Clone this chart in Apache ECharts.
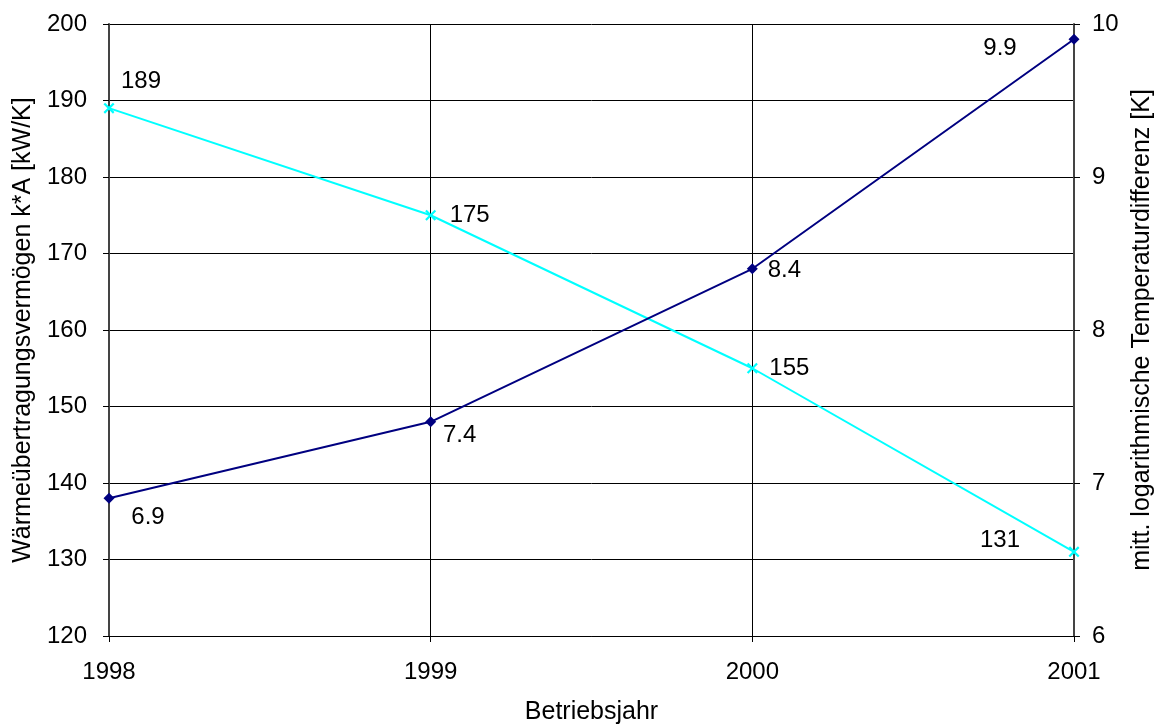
<!DOCTYPE html>
<html>
<head>
<meta charset="utf-8">
<script src="https://cdn.jsdelivr.net/npm/echarts@6/dist/echarts.min.js"></script>
<style>
  html, body { margin: 0; padding: 0; background: #fff; }
  #chart { width: 1163px; height: 724px; }
</style>
</head>
<body>
<div id="chart"></div>
<script>
// Operating years
const years = ['1998', '1999', '2000', '2001'];
// Heat transfer capacity k*A [kW/K] (left axis)
const kA = [189, 175, 155, 131];
// Mean logarithmic temperature difference [K] (right axis)
const dT = [6.9, 7.4, 8.4, 9.9];

// Label offsets relative to each point
const kAOffsets = [[32, -27], [39, 0], [37, 0], [-74, -11]];
const dTOffsets = [[39, 19], [29, 14], [32, 2], [-74, 9]];

const font = 'Liberation Sans, Arial, sans-serif';
const fs = 24;      // tick and value labels
const nameFs = 25;  // axis titles
const crossPath = 'path://M0,1.4L1.4,0L5,3.6L8.6,0L10,1.4L6.4,5L10,8.6L8.6,10L5,6.4L1.4,10L0,8.6L3.6,5Z';

const chart = echarts.init(document.getElementById('chart'), null, { renderer: 'canvas' });

chart.setOption({
  animation: false,
  backgroundColor: '#ffffff',
  grid: { left: 109, right: 89, top: 24, bottom: 88, containLabel: false, outerBoundsMode: 'none' },
  xAxis: {
    type: 'category',
    data: years,
    boundaryGap: false,
    name: 'Betriebsjahr',
    nameLocation: 'middle',
    nameGap: 64,
    nameTextStyle: { fontFamily: font, fontSize: nameFs, color: '#000' },
    axisLine: { lineStyle: { color: '#000', width: 1 } },
    axisTick: { show: true, inside: false, length: 6, lineStyle: { color: '#000' } },
    axisLabel: { fontFamily: font, fontSize: fs, color: '#000', margin: 24 },
    splitLine: { show: true, lineStyle: { color: '#000', width: 1 } }
  },
  yAxis: [
    {
      type: 'value',
      min: 120, max: 200, interval: 10,
      name: 'Wärmeübertragungsvermögen k*A [kW/K]',
      nameLocation: 'middle',
      nameGap: 71,
      nameRotate: 90,
      nameTextStyle: { fontFamily: font, fontSize: nameFs, color: '#000' },
      axisLine: { show: true, lineStyle: { color: '#444', width: 2 } },
      axisTick: { show: true, inside: false, length: 6, lineStyle: { color: '#000' } },
      axisLabel: { fontFamily: font, fontSize: fs, color: '#000', margin: 22 },
      splitLine: { show: true, lineStyle: { color: '#000', width: 1 } }
    },
    {
      type: 'value',
      min: 6, max: 10, interval: 1,
      position: 'right',
      name: 'mitt. logarithmische Temperaturdifferenz [K]',
      nameLocation: 'middle',
      nameGap: 56,
      nameRotate: 90,
      nameTextStyle: { fontFamily: font, fontSize: nameFs, color: '#000' },
      axisLine: { show: true, lineStyle: { color: '#444', width: 2 } },
      axisTick: { show: true, inside: false, length: 6, lineStyle: { color: '#000' } },
      axisLabel: { fontFamily: font, fontSize: fs, color: '#000', margin: 18 },
      splitLine: { show: false }
    }
  ],
  series: [
    {
      name: 'k*A',
      type: 'line',
      yAxisIndex: 0,
      data: kA.map((v, i) => ({
        value: v,
        label: { offset: kAOffsets[i] }
      })),
      symbol: crossPath,
      symbolSize: 11,
      itemStyle: { color: '#00ffff' },
      lineStyle: { color: '#00ffff', width: 2 },
      label: {
        show: true,
        position: 'inside',
        fontFamily: font, fontSize: fs, color: '#000'
      },
      z: 3
    },
    {
      name: 'dT',
      type: 'line',
      yAxisIndex: 1,
      data: dT.map((v, i) => ({
        value: v,
        label: { offset: dTOffsets[i] }
      })),
      symbol: 'diamond',
      symbolSize: 11,
      itemStyle: { color: '#000080' },
      lineStyle: { color: '#000080', width: 2 },
      label: {
        show: true,
        position: 'inside',
        fontFamily: font, fontSize: fs, color: '#000',
        formatter: p => p.value.toFixed(1)
      },
      z: 4
    }
  ]
});
</script>
</body>
</html>
